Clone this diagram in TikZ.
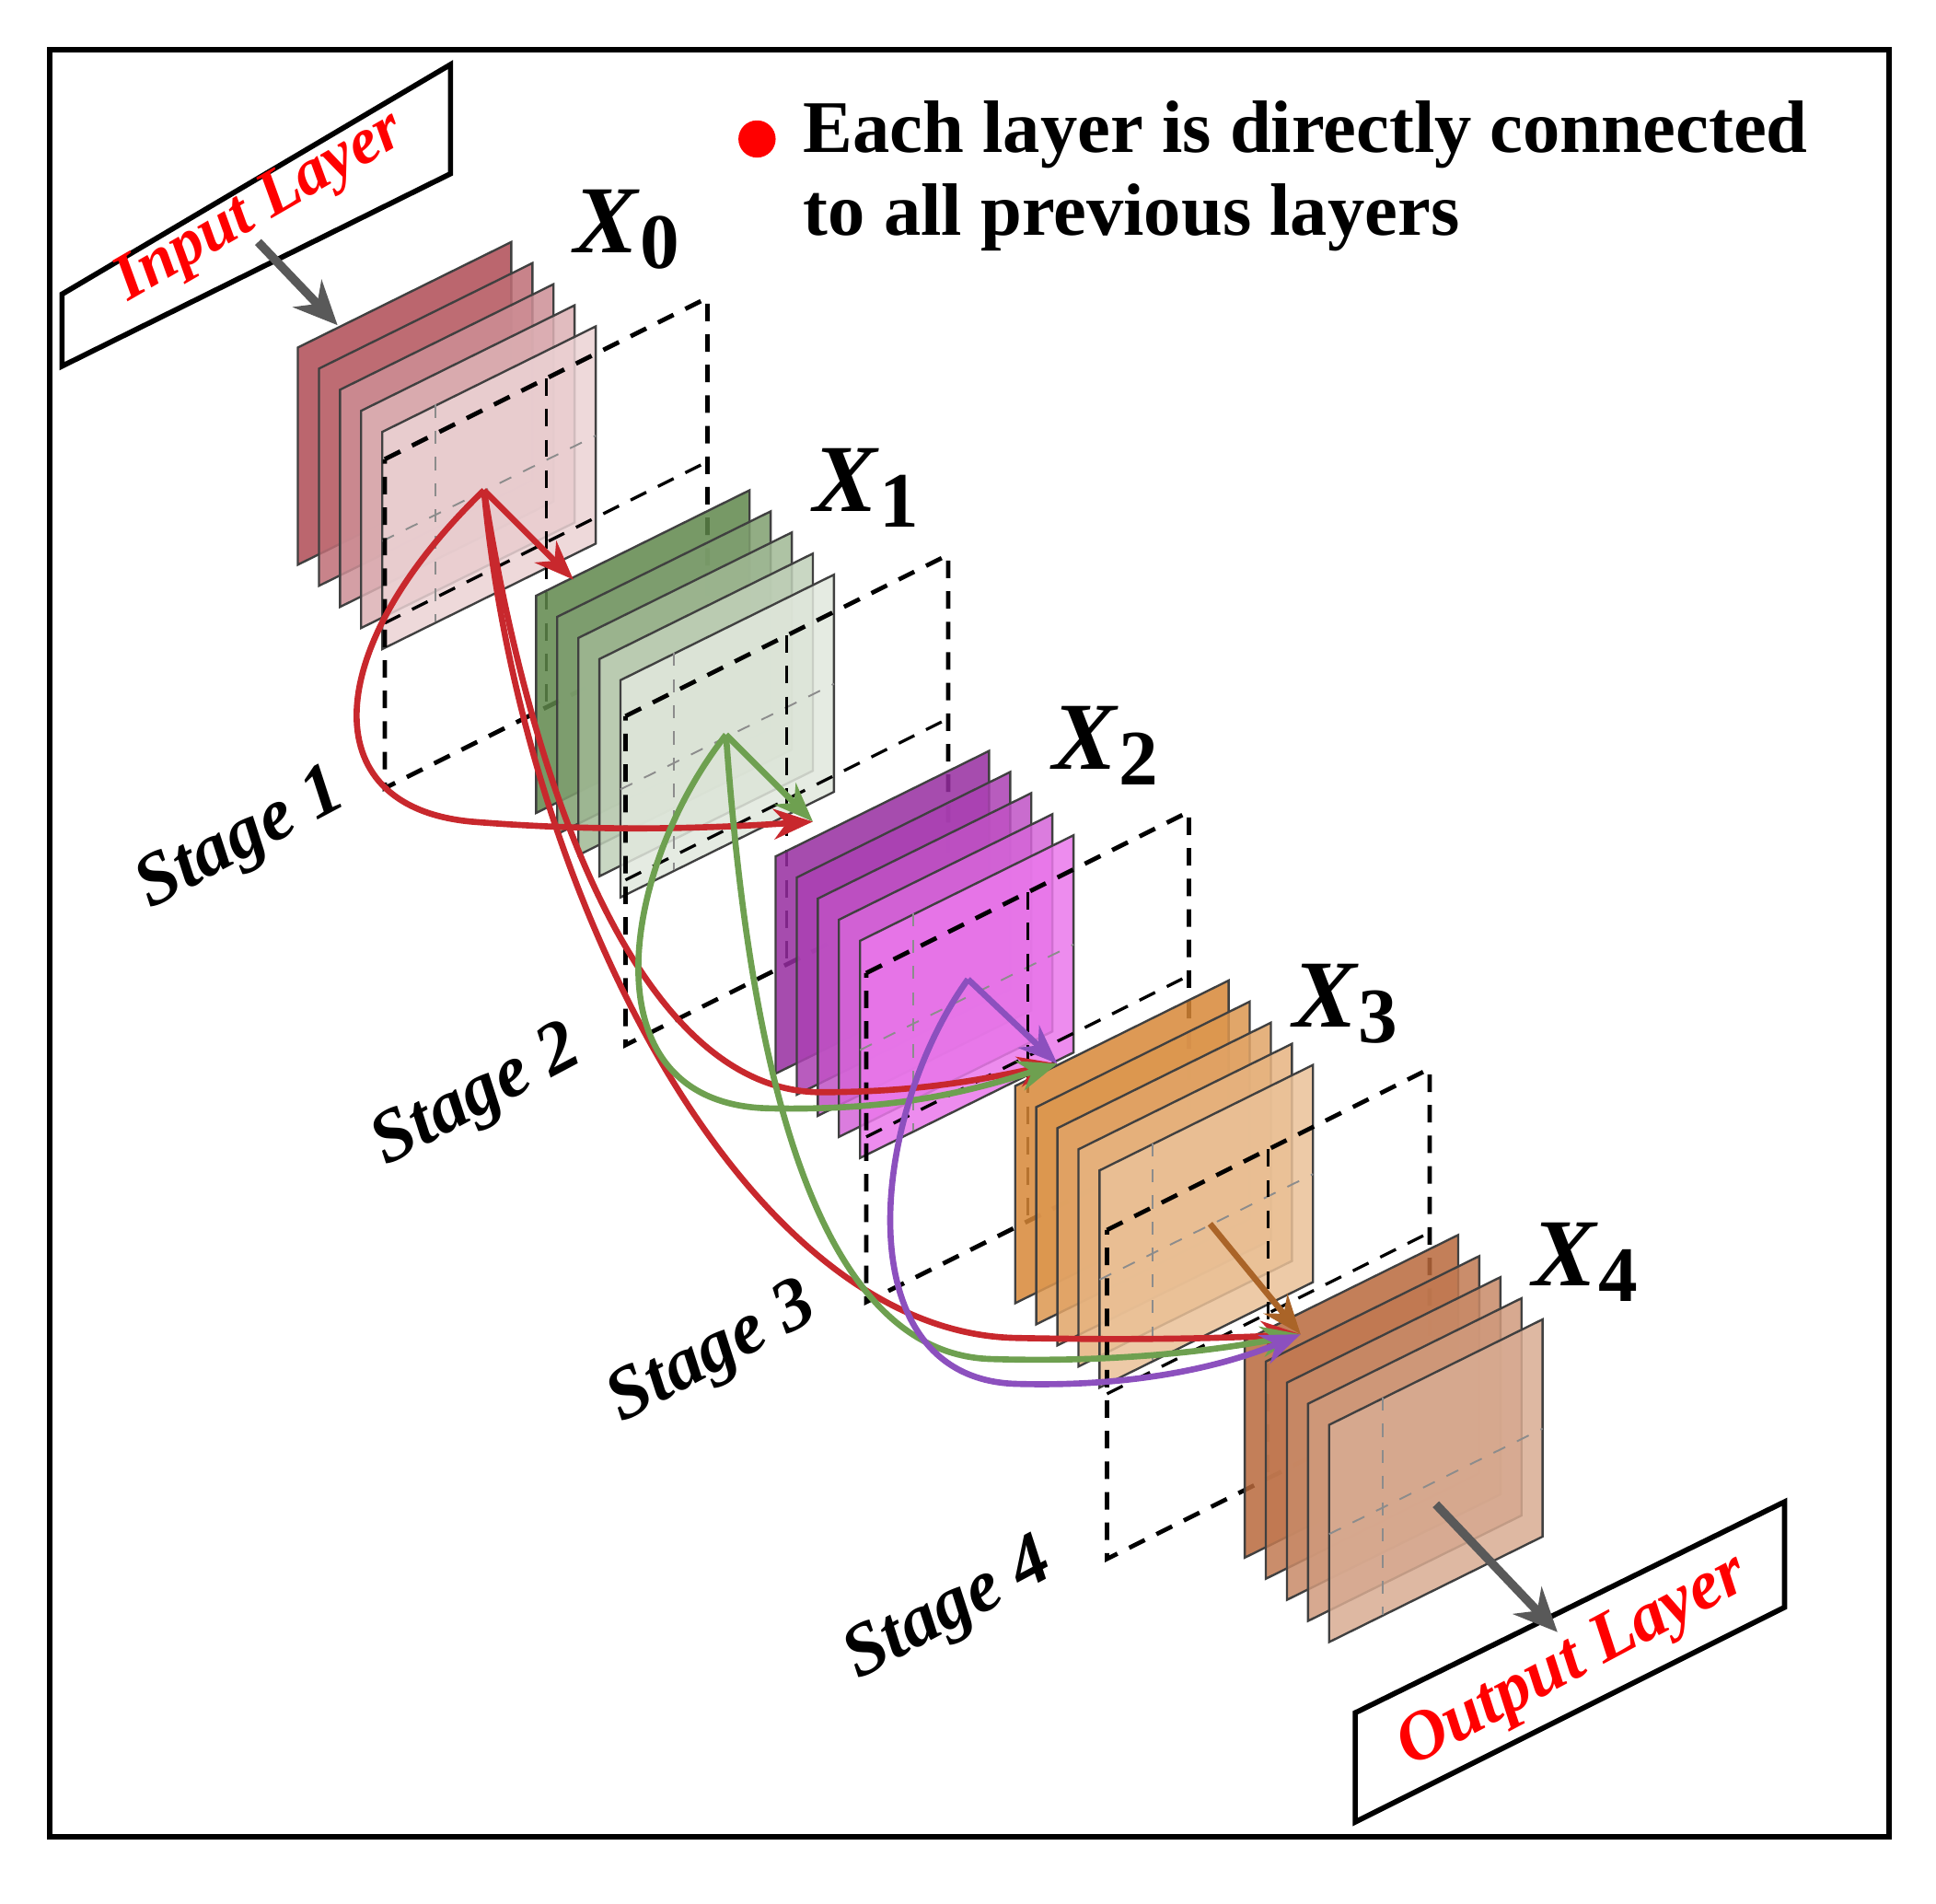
\documentclass[tikz,border=0pt]{standalone}
\usepackage{fontspec}
\setmainfont{Liberation Serif}
\usetikzlibrary{arrows.meta}

\definecolor{cRed}{RGB}{200,40,45}
\definecolor{cGrn}{RGB}{110,160,80}
\definecolor{cPur}{RGB}{140,80,190}
\definecolor{cBrn}{RGB}{170,100,40}
\definecolor{sA}{RGB}{175,75,85}
\definecolor{sB}{RGB}{95,135,75}
\definecolor{sC}{RGB}{150,45,160}
\definecolor{sCf}{RGB}{245,130,245}
\definecolor{sD}{RGB}{215,135,55}
\definecolor{sE}{RGB}{185,105,60}

\tikzset{
  sheet/.style={draw=black!75, line width=0.5pt, fill opacity=0.85},
  frame/.style={draw, dashed, line width=1pt, dash pattern=on 4pt off 3pt},
  grid/.style={draw=black!45, dashed, line width=0.4pt},
  link/.style={line width=1.4pt, -{Stealth[length=9pt,width=7pt]}},
  lbl/.style={font=\bfseries\itshape\fontsize{17}{19}\selectfont, rotate=28},
  xname/.style={font=\bfseries\fontsize{22}{24}\selectfont}
}

% one stack of five feature maps: origin x, origin y, dark colour, light colour
\newcommand\fmstack[4]{
  \foreach \i in {0,...,4}{
    \pgfmathsetmacro\mix{100-22*\i}
    \path[sheet, fill=#3!\mix!#4] (#1+17*\i,#2+17*\i) -- ++(172,-85) -- ++(0,175) -- ++(-172,85) -- cycle;
  }
  \path[grid] (#1+68+43,#2+68-22) -- ++(0,175);
  \path[grid] (#1+68,#2+68+88) -- ++(172,-85);
}
% dashed stage frame with its mid lines
\newcommand\stframe[1]{
  \path[frame] (310+194*#1,370+207*#1) -- ++(260,-130) -- ++(0,265) -- ++(-260,130) -- cycle;
  \path[frame, line width=0.7pt] (440+194*#1,305+207*#1) -- ++(0,265);
  \path[frame, line width=0.7pt] (310+194*#1,502+207*#1) -- ++(260,-130);
}

\begin{document}
\begin{tikzpicture}[x={(0.01cm,0)}, y={(0,-0.01cm)}]
  \useasboundingbox (0,0) rectangle (1560,1534);
  \draw[line width=1.2pt] (40,40) rectangle (1522,1480);

  % legend
  \fill[red] (610,112) circle (15);
  \node[anchor=west, align=left, font=\bfseries\fontsize{17}{17}\selectfont] (note) at (635,142)
    {Each layer is directly connected\\[2pt]to all previous layers};

  % stacks and stage frames
  \fmstack{240}{280}{sA}{white!85!sA}
  \stframe{0}
  \fmstack{432}{480}{sB}{white!92!sB}
  \stframe{1}
  \fmstack{625}{690}{sC}{sCf}
  \stframe{2}
  \fmstack{818}{875}{sD}{white!55!sD}
  \stframe{3}
  \fmstack{1003}{1080}{sE}{white!50!sE}

  % names
  \foreach \k in {0,...,4}{
    \node[xname] (x\k) at (505+193*\k,185+208*\k) {\textit{X}\raisebox{-0.35ex}{\fontsize{18}{20}\selectfont\k}};
  }
  \foreach \k/\n in {0/1,1/2,2/3,3/4}{
    \node[lbl] (st\n) at (195+190*\k,678+207*\k) {Stage \n};
  }

  % centres and targets
  \foreach \k in {0,...,3}{
    \coordinate (c\k) at (390+195*\k,395+197*\k);
  }
  \coordinate (t1) at (462,467);
  \coordinate (t2) at (655,662);
  \coordinate (t3) at (852,857);
  \coordinate (t4) at (1048,1075);

  % connections
  \draw[link, cRed] (c0) -- (t1);
  \draw[link, cGrn] (c1) -- (t2);
  \draw[link, cPur] (c2) -- (t3);
  \draw[link, cBrn] (c3) -- (t4);
  \draw[link, cRed] (c0) .. controls (260,520) and (250,650) .. (380,662) .. controls (480,670) and (560,668) .. (t2);
  \draw[link, cRed] (c0) .. controls (430,650) and (520,878) .. (660,880) .. controls (740,880) and (790,870) .. (t3);
  \draw[link, cRed] (c0) .. controls (420,720) and (600,1075) .. (820,1078) .. controls (920,1080) and (990,1078) .. (t4);
  \draw[link, cGrn] (c1) .. controls (500,700) and (470,890) .. (620,893) .. controls (720,895) and (780,880) .. (t3);
  \draw[link, cGrn] (c1) .. controls (600,800) and (640,1092) .. (800,1095) .. controls (900,1098) and (980,1088) .. (t4);
  \draw[link, cPur] (c2) .. controls (700,900) and (680,1112) .. (820,1115) .. controls (930,1118) and (1000,1095) .. (t4);

  % input / output boxes
  \draw[line width=1.2pt, fill=white] (50,237) -- (363,52) -- (363,140) -- (50,295) -- cycle;
  \node[font=\bfseries\itshape\fontsize{15}{17}\selectfont, text=red, rotate=30] (inp) at (210,168) {Input Layer};
  \coordinate (inE) at (272,262);
  \draw[line width=2pt, black!65, -{Stealth[length=10pt,width=9pt]}] (208,195) -- (inE);

  \draw[line width=1.2pt, fill=white] (1092,1380) -- (1438,1210) -- (1438,1295) -- (1092,1468) -- cycle;
  \node[font=\bfseries\itshape\fontsize{16}{18}\selectfont, text=red, rotate=28] (outp) at (1268,1340) {Output Layer};
  \coordinate (outS) at (1157,1212);
  \draw[line width=2pt, black!65, -{Stealth[length=10pt,width=9pt]}] (outS) -- (1255,1315);
\end{tikzpicture}
\end{document}
